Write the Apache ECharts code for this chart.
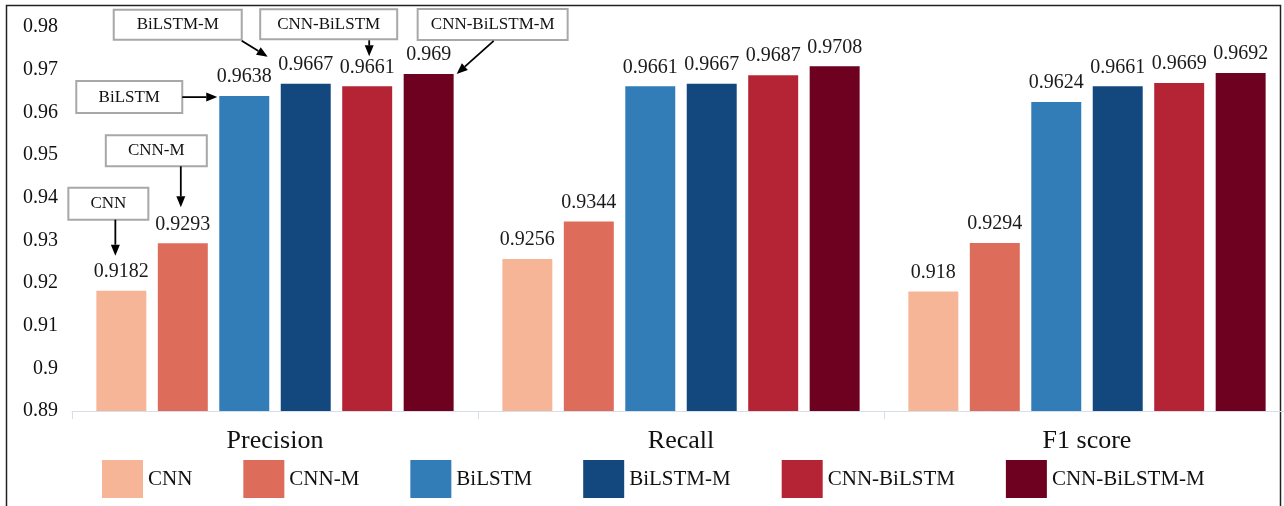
<!DOCTYPE html>
<html>
<head>
<meta charset="utf-8">
<style>
  html, body { margin: 0; padding: 0; background: #fff; overflow: hidden; }
  #chart { width: 1290px; height: 506px; }
</style>
<script src="https://cdn.jsdelivr.net/npm/echarts@6/dist/echarts.min.js"></script>
</head>
<body>
<div id="chart"></div>
<script>
// Metric groups on the x axis
const metrics = ['Precision', 'Recall', 'F1 score'];

// Models, one bar series each
const models = ['CNN', 'CNN-M', 'BiLSTM', 'BiLSTM-M', 'CNN-BiLSTM', 'CNN-BiLSTM-M'];
const modelColors = ['#f7b597', '#dd6c5a', '#327cb7', '#13487f', '#b52434', '#6e0120'];

// Scores per model: [Precision, Recall, F1 score]
const cnn = [0.9182, 0.9256, 0.918];
const cnnM = [0.9293, 0.9344, 0.9294];
const bilstm = [0.9638, 0.9661, 0.9624];
const bilstmM = [0.9667, 0.9667, 0.9661];
const cnnBilstm = [0.9661, 0.9687, 0.9669];
const cnnBilstmM = [0.969, 0.9708, 0.9692];
const seriesValues = [cnn, cnnM, bilstm, bilstmM, cnnBilstm, cnnBilstmM];

// Y axis range
const yMin = 0.89, yMax = 0.98, yStep = 0.01;

const FONT = '"Liberation Serif", "Times New Roman", serif';

// the plot runs slightly past the 1284px view on the right, so the canvas is 1290px wide
const chart = echarts.init(document.getElementById('chart'), null, { renderer: 'canvas' });

const series = models.map((name, i) => ({
  name,
  type: 'bar',
  data: seriesValues[i],
  barGap: '23%',
  barCategoryGap: '12%',
  itemStyle: { color: modelColors[i] },
  label: {
    show: true,
    position: 'top',
    distance: 9,
    fontFamily: FONT,
    fontSize: 20,
    color: '#1a1a1a'
  }
}));

chart.setOption({
  animation: false,
  backgroundColor: '#fff',
  grid: { left: 72, top: 27, right: 0, bottom: 95, containLabel: false },
  xAxis: {
    type: 'category',
    data: metrics,
    axisLine: { lineStyle: { color: '#d8dee9', width: 1 } },
    axisTick: { show: true, length: 8, lineStyle: { color: '#d8dee9' } },
    axisLabel: { fontFamily: FONT, fontSize: 26, color: '#111', margin: 17 }
  },
  yAxis: {
    type: 'value',
    min: yMin,
    max: yMax,
    interval: yStep,
    axisLine: { show: false },
    axisTick: { show: false },
    splitLine: { show: false },
    axisLabel: {
      fontFamily: FONT, fontSize: 20, color: '#111', margin: 14,
      formatter: v => String(+v.toFixed(2))
    }
  },
  legend: {
    data: models,
    left: 102,
    top: 460,
    padding: 0,
    itemWidth: 41,
    itemHeight: 38,
    itemGap: 51,
    icon: 'rect',
    textStyle: { fontFamily: FONT, fontSize: 21, color: '#111', padding: [12, 0, 0, 0] }
  },
  series
});

// Callout boxes with arrows for the Precision group.
// box: [dx, dy, w, h] and arrow [x0, y0, x1, y1] relative to the bar's top centre.
const callouts = [
  { s: 0, c: 0, text: 'CNN',          box: [-53, -103, 80, 32],   arrow: [-6, -71, -6, -35] },
  { s: 1, c: 0, text: 'CNN-M',        box: [-77, -108, 101, 31],  arrow: [-2, -77, -2, -36] },
  { s: 2, c: 0, text: 'BiLSTM',       box: [-168, -15, 106, 32],  arrow: [-62, 1, -27, 1] },
  { s: 3, c: 0, text: 'BiLSTM-M',     box: [-192, -74, 128, 30],  arrow: [-64, -43, -38, -27] },
  { s: 4, c: 0, text: 'CNN-BiLSTM',   box: [-107, -77, 137, 30],  arrow: [2, -46, 2, -30] },
  { s: 5, c: 0, text: 'CNN-BiLSTM-M', box: [-11, -65, 150, 31],   arrow: [65, -33, 28, 0] }
];

function barTop(s, c) {
  const layout = chart.getModel().getSeriesByIndex(s).getData().getItemLayout(c);
  return [layout.x + layout.width / 2, Math.min(layout.y, layout.y + layout.height)];
}

const graphics = [];
// outer frame
graphics.push({
  type: 'rect', z: 0, silent: true,
  shape: { x: 6.5, y: 5.5, width: 1274, height: 520 },
  style: { fill: 'none', stroke: '#222', lineWidth: 1.5 }
});

callouts.forEach(co => {
  const [cx, cy] = barTop(co.s, co.c);
  const [bx, by, bw, bh] = co.box;
  graphics.push({
    type: 'group', z: 100, silent: true,
    children: [
      {
        type: 'rect',
        shape: { x: cx + bx, y: cy + by, width: bw, height: bh },
        style: { fill: '#fff', stroke: '#a8a8a8', lineWidth: 2 }
      },
      {
        type: 'text',
        x: cx + bx + bw / 2, y: cy + by + bh / 2,
        style: {
          text: co.text, fontFamily: FONT, fontSize: 17, fill: '#111',
          align: 'center', verticalAlign: 'middle'
        }
      }
    ]
  });
  const x0 = cx + co.arrow[0], y0 = cy + co.arrow[1];
  const x1 = cx + co.arrow[2], y1 = cy + co.arrow[3];
  const len = Math.hypot(x1 - x0, y1 - y0);
  const ux = (x1 - x0) / len, uy = (y1 - y0) / len;
  const headL = 11, headW = 4.5;
  const bxh = x1 - ux * headL, byh = y1 - uy * headL;
  graphics.push({
    type: 'line', z: 100, silent: true,
    shape: { x1: x0, y1: y0, x2: bxh, y2: byh },
    style: { stroke: '#000', lineWidth: 1.8 }
  });
  graphics.push({
    type: 'polygon', z: 100, silent: true,
    shape: { points: [[x1, y1], [bxh - uy * headW, byh + ux * headW], [bxh + uy * headW, byh - ux * headW]] },
    style: { fill: '#000' }
  });
});

chart.setOption({ graphic: graphics });
</script>
</body>
</html>
